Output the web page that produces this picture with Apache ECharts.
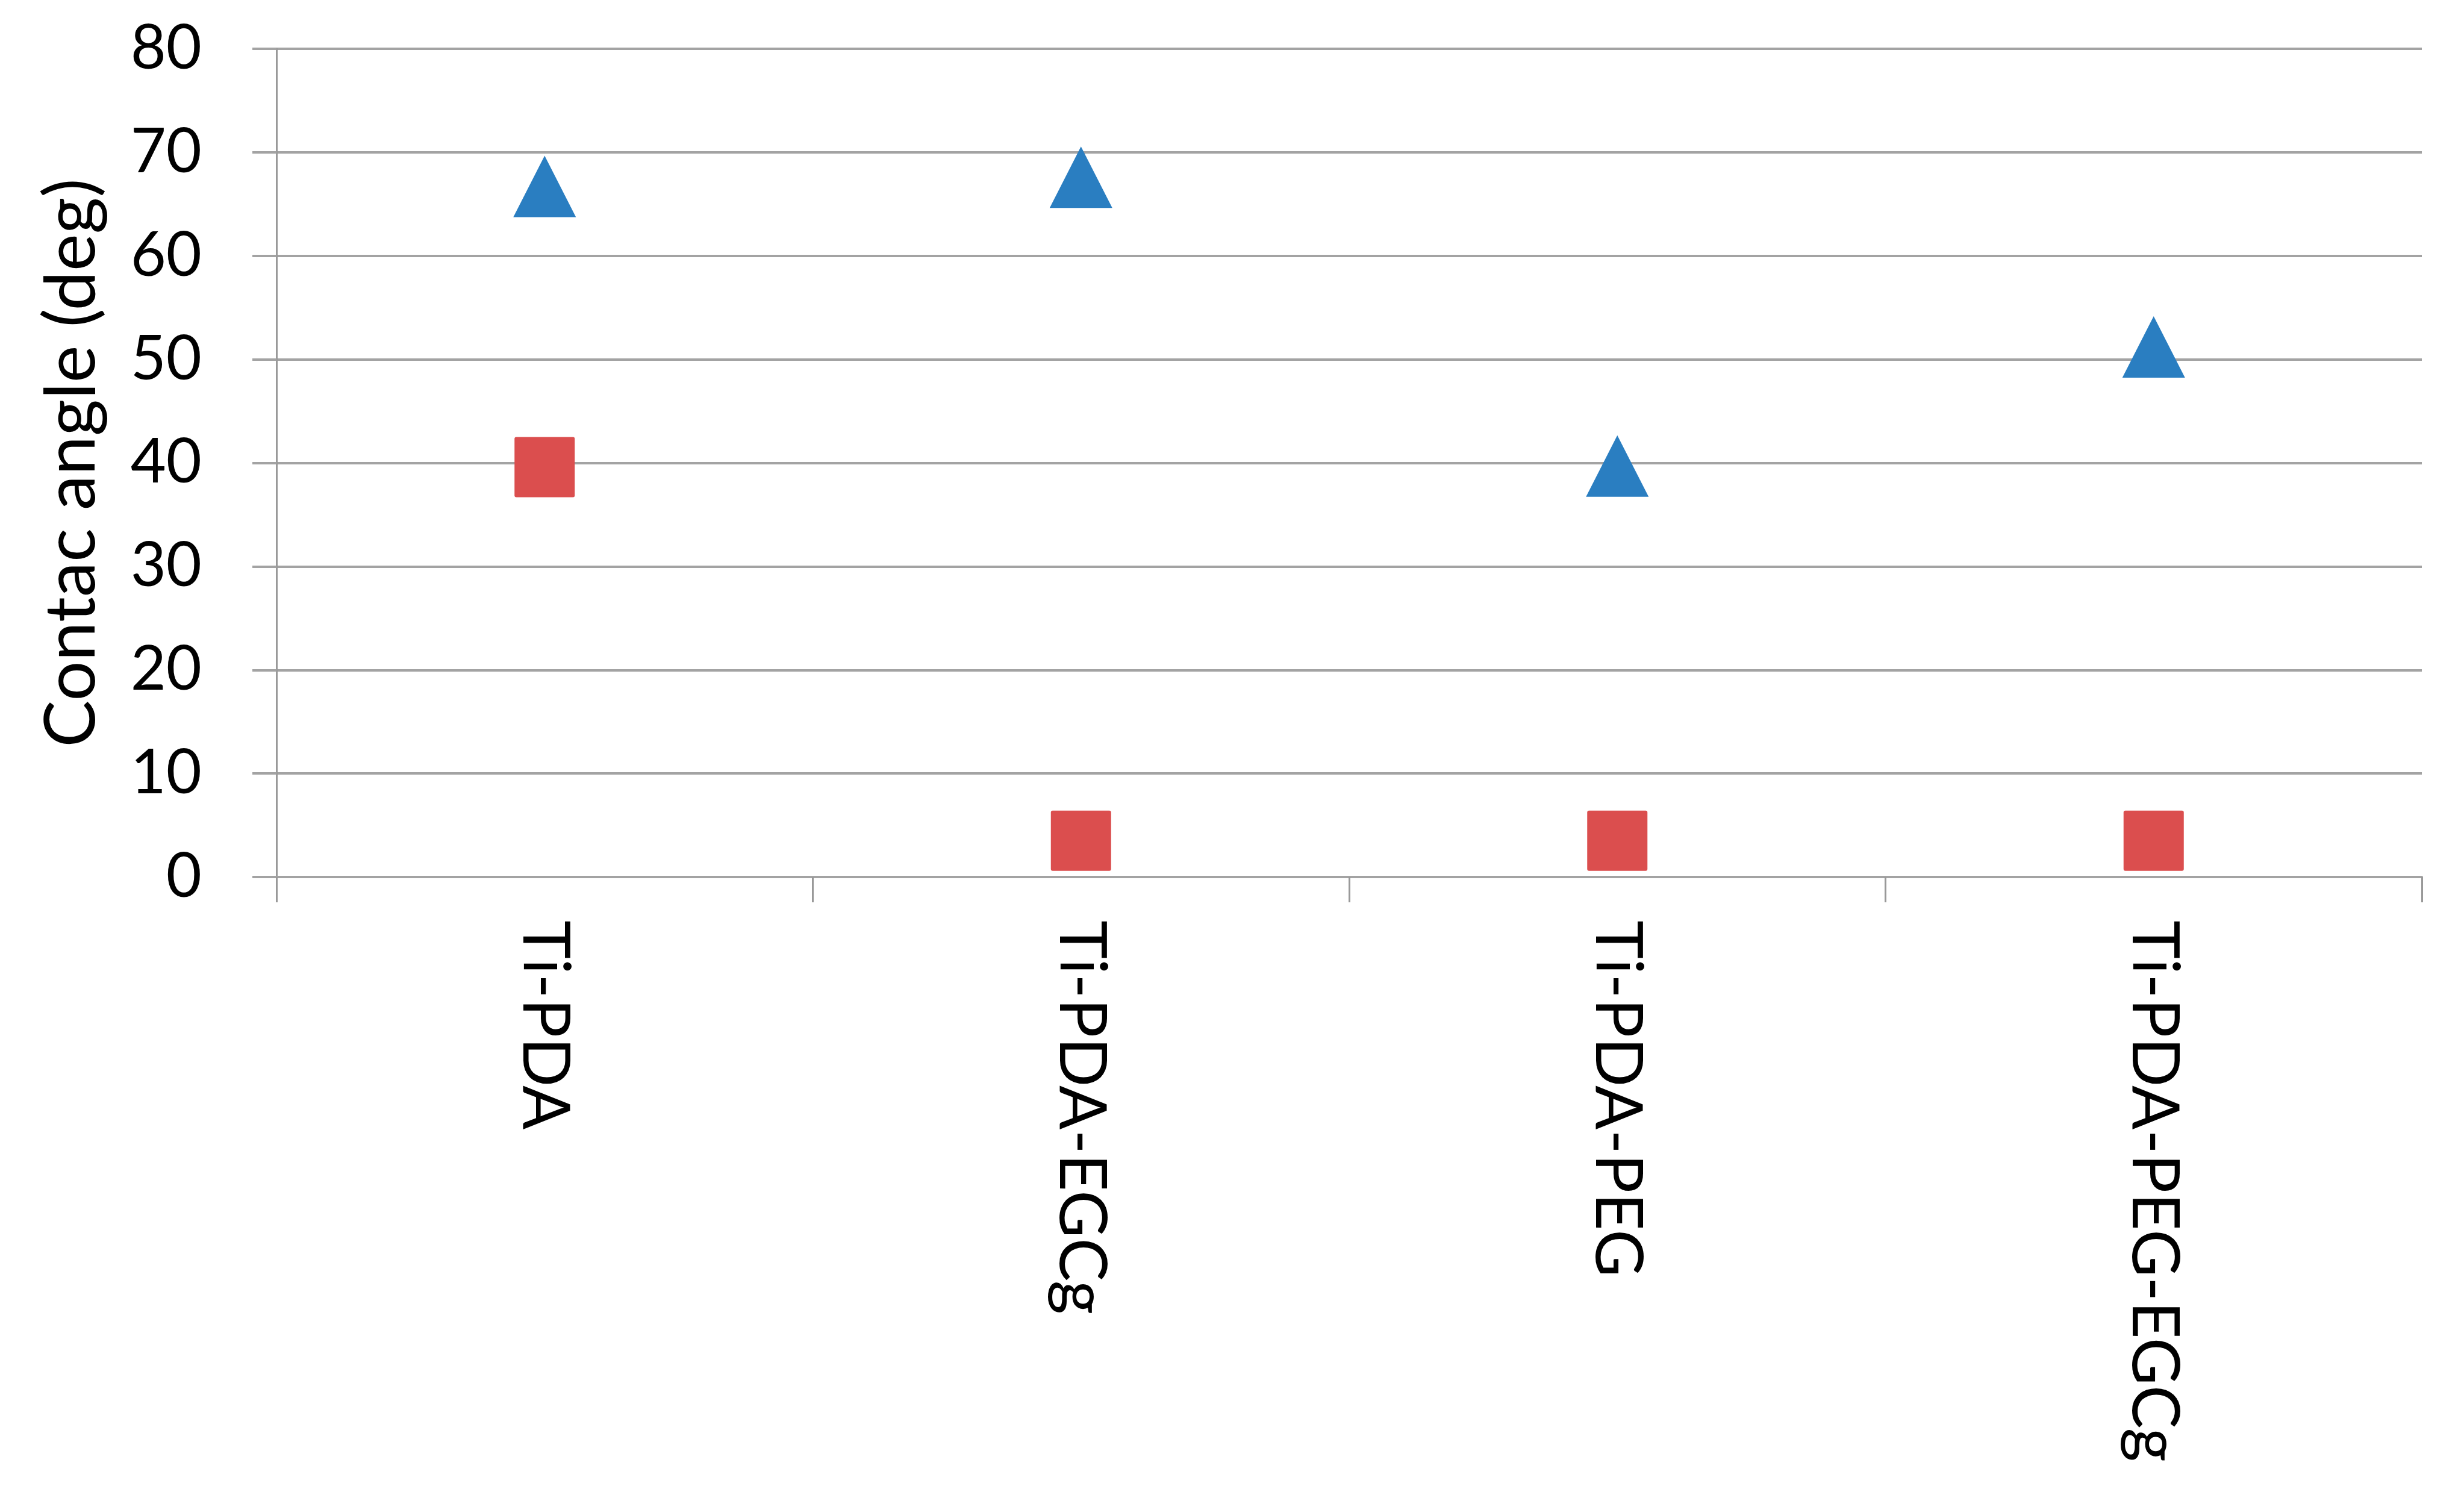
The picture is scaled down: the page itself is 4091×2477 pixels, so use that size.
<!DOCTYPE html>
<html>
<head>
<meta charset="utf-8">
<script src="https://cdn.jsdelivr.net/npm/echarts@6/dist/echarts.min.js"></script>
<style>
  html, body { margin: 0; padding: 0; background: #ffffff; }
  #chart { width: 4091px; height: 2477px; }
</style>
</head>
<body>
<div id="chart"></div>
<script>
// ---- data ----
const categories = ['Ti-PDA', 'Ti-PDA-EGCg', 'Ti-PDA-PEG', 'Ti-PDA-PEG-EGCg'];
const seriesTriangle = [66.7, 67.6, 39.7, 51.2];
const seriesSquare = [39.6, 3.5, 3.5, 3.5];
const yTicks = [0, 10, 20, 30, 40, 50, 60, 70, 80];
const yTitle = 'Contac angle (deg)';

const FONT = 'Lato';
const GRID = '#a3a3a3';
const squarePath = 'path://M3,0 H97 Q100,0 100,3 V97 Q100,100 97,100 H3 Q0,100 0,97 V3 Q0,0 3,0 Z';

const chart = echarts.init(document.getElementById('chart'), null, { renderer: 'canvas' });
chart.setOption({
  backgroundColor: '#ffffff',
  animation: false,
  grid: { left: 459, right: 70, top: 81, bottom: 1021, containLabel: false },
  xAxis: {
    type: 'category',
    data: categories,
    boundaryGap: true,
    axisLine: { show: true, lineStyle: { color: GRID, width: 4 } },
    axisTick: { show: true, length: 42, alignWithLabel: false, lineStyle: { color: '#999999', width: 3 } },
    axisLabel: {
      rotate: -90,
      margin: 72,
      color: '#000000',
      fontFamily: FONT,
      fontSize: 108,
      interval: 0
    },
    splitLine: { show: false }
  },
  yAxis: {
    type: 'value',
    min: yTicks[0],
    max: yTicks[yTicks.length - 1],
    interval: 10,
    name: yTitle,
    nameLocation: 'middle',
    nameGap: 281,
    nameRotate: 90,
    nameTextStyle: { color: '#000000', fontFamily: FONT, fontSize: 117 },
    axisLine: { show: true, lineStyle: { color: '#999999', width: 3 } },
    axisTick: { show: true, length: 40, lineStyle: { color: GRID, width: 4 } },
    axisLabel: {
      margin: 124,
      color: '#000000',
      fontFamily: FONT,
      fontSize: 102
    },
    splitLine: { show: true, lineStyle: { color: GRID, width: 4 } }
  },
  series: [
    {
      name: 'Series1',
      type: 'scatter',
      data: seriesTriangle,
      symbol: 'triangle',
      symbolSize: [104, 102],
      itemStyle: { color: '#2a7ec1', opacity: 1 },
      z: 3
    },
    {
      name: 'Series2',
      type: 'scatter',
      data: seriesSquare,
      symbol: squarePath,
      symbolSize: [100, 100],
      itemStyle: { color: '#db4e4e', opacity: 1 },
      z: 3
    }
  ]
});
</script>
</body>
</html>
